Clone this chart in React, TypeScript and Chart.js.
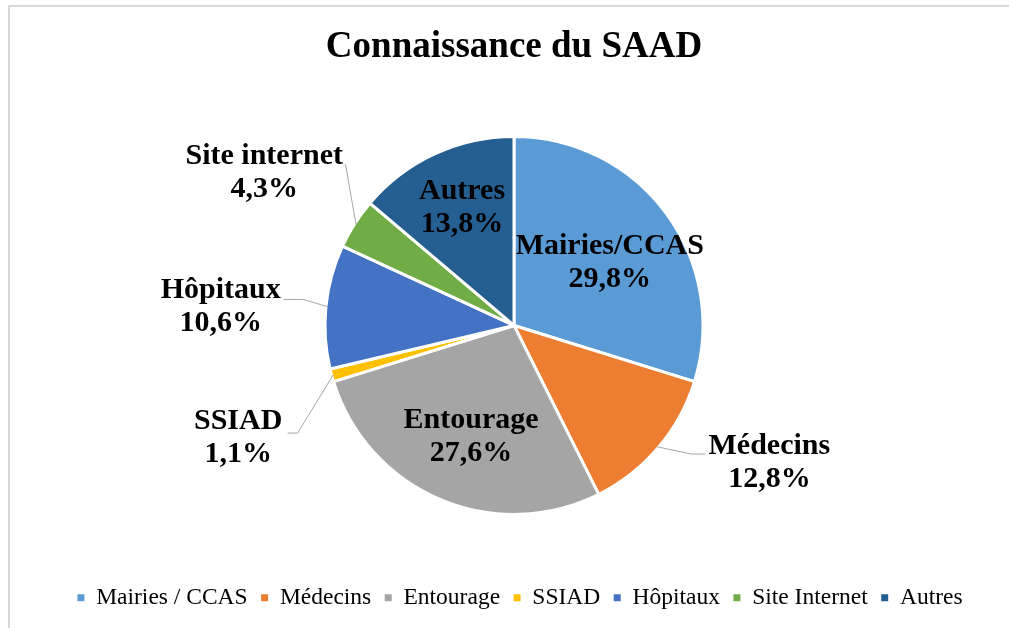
import React, { useEffect, useRef } from "react";
import { Chart, registerables } from "chart.js";

Chart.register(...registerables);

const legendNames = ["Mairies / CCAS", "Médecins", "Entourage", "SSIAD", "Hôpitaux", "Site Internet", "Autres"];
const sliceNames = ["Mairies/CCAS", "Médecins", "Entourage", "SSIAD", "Hôpitaux", "Site internet", "Autres"];
const shares = [29.8, 12.8, 27.6, 1.1, 10.6, 4.3, 13.8];
const colors = ["#5B9BD5", "#ED7D31", "#A5A5A5", "#FFC000", "#4472C4", "#70AD47", "#255E91"];

// label layout (offsets from pie centre, in units of the radius)
const labelPos = [
  [0.511, -0.332],
  [1.362, 0.734],
  [-0.229, 0.596],
  [-1.471, 0.601],
  [-1.564, -0.101],
  [-1.332, -0.814],
  [-0.277, -0.628],
];
const leaders: (number[][] | null)[] = [
  null,
  [[0.947, 0.686], [1.021, 0.686]],
  null,
  [[-1.154, 0.574], [-1.207, 0.574]],
  [[-1.122, -0.138], [-1.229, -0.138]],
  [[-0.899, -0.862]],
  null,
];

const SERIF = '"Liberation Serif", "Times New Roman", serif';

const labelPlugin = {
  id: "sliceLabels",
  afterLayout(chart: any) {
    if (chart.legend) {
      chart.legend.left += 6;
      chart.legend.right += 6;
    }
  },
  afterDatasetsDraw(chart: any) {
    const ctx = chart.ctx;
    const meta = chart.getDatasetMeta(0);
    const data = chart.data.datasets[0].data as number[];
    const total = data.reduce((a, b) => a + b, 0);
    ctx.save();
    meta.data.forEach((arc: any, i: number) => {
      const p = arc.getProps(["x", "y", "startAngle", "endAngle", "outerRadius"], true);
      const R = p.outerRadius - 1.5;
      const mid = (p.startAngle + p.endAngle) / 2;
      const lead = leaders[i];
      if (lead) {
        ctx.beginPath();
        ctx.strokeStyle = "#A6A6A6";
        ctx.lineWidth = 1;
        ctx.moveTo(p.x + Math.cos(mid) * R, p.y + Math.sin(mid) * R);
        lead.forEach(([a, b]) => ctx.lineTo(p.x + a * R, p.y + b * R));
        ctx.stroke();
      }
      const [lx, ly] = labelPos[i];
      const cx = p.x + lx * R;
      const cy = p.y + ly * R;
      ctx.fillStyle = "#000";
      ctx.font = `bold 30px ${SERIF}`;
      ctx.textAlign = "center";
      ctx.textBaseline = "middle";
      const pct = ((data[i] / total) * 100).toFixed(1).replace(".", ",") + "%";
      ctx.fillText(sliceNames[i], cx, cy - 16.5);
      ctx.fillText(pct, cx, cy + 16.5);
    });
    ctx.restore();
  },
};

export default function App() {
  const ref = useRef<HTMLCanvasElement | null>(null);
  useEffect(() => {
    if (!ref.current) return;
    const chart = new Chart(ref.current, {
      type: "pie",
      data: {
        labels: legendNames,
        datasets: [
          {
            data: shares,
            backgroundColor: colors,
            borderColor: "#FFFFFF",
            borderWidth: 3,
            hoverOffset: 0,
          },
        ],
      },
      options: {
        responsive: false,
        animation: false,
        radius: 189,
        layout: { padding: { left: 19, right: 0, top: 0, bottom: 8.5 } },
        plugins: {
          title: {
            display: true,
            text: "Connaissance du SAAD",
            color: "#000",
            font: { family: SERIF, size: 37, weight: "bold", lineHeight: 1.2 },
            padding: { top: 25, bottom: 9 },
          },
          legend: {
            position: "bottom",
            labels: {
              font: { family: SERIF, size: 23.5 },
              color: "#000",
              boxWidth: 7,
              boxHeight: 7,
              padding: 13.5,
              generateLabels: (c: any) =>
                (c.data.labels as string[]).map((t, i) => ({
                  text: t,
                  fillStyle: colors[i],
                  strokeStyle: colors[i],
                  lineWidth: 0,
                  hidden: false,
                  index: i,
                  fontColor: "#000",
                })),
            },
          },
          tooltip: { enabled: false },
        },
      } as any,
      plugins: [labelPlugin],
    });
    return () => chart.destroy();
  }, []);

  return (
    <>
      <div
        style={{
          position: "fixed",
          left: 8,
          top: 5,
          width: 1100,
          height: 700,
          borderLeft: "2px solid #D9D9D9",
          borderTop: "2px solid #D9D9D9",
        }}
      />
      <canvas
        ref={ref}
        width={1009}
        height={628}
        style={{ position: "fixed", left: 0, top: 0, width: 1009, height: 628 }}
      />
    </>
  );
}
